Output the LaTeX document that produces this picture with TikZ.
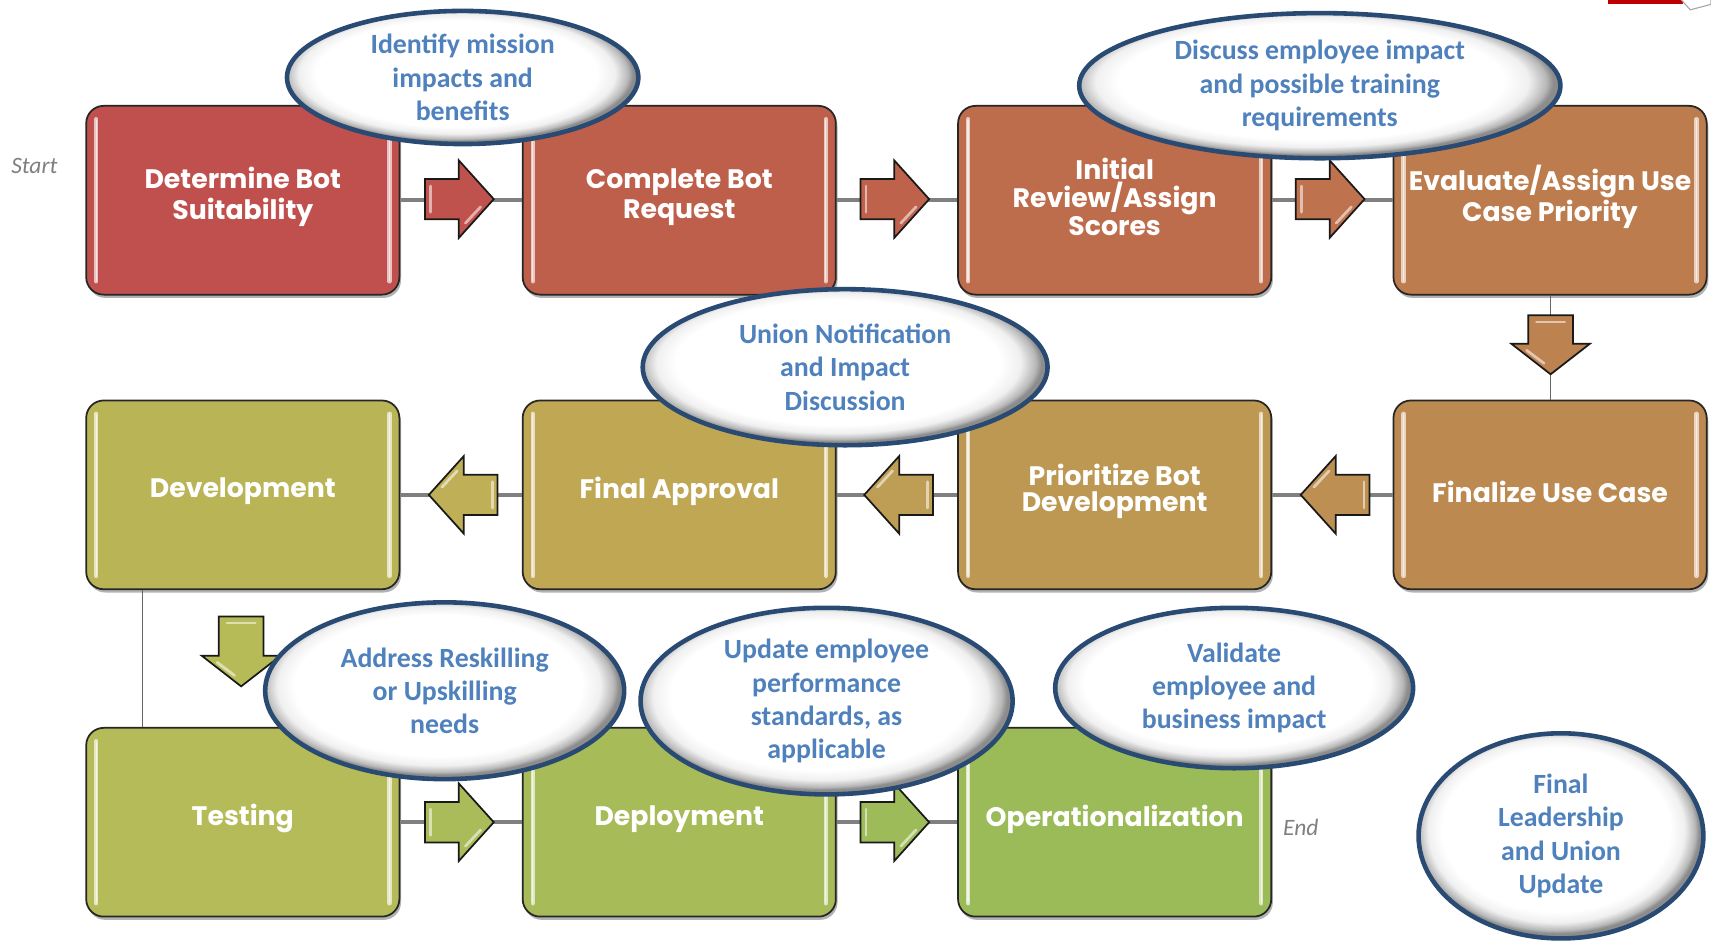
\documentclass[tikz,border=0pt]{standalone}
\usepackage{fontspec}
\setmainfont{Carlito}
\newfontfamily\boxfont{Poppins}
\usetikzlibrary{shapes.geometric,shadows}

\definecolor{ellblue}{RGB}{79,129,189}
\definecolor{ellborder}{RGB}{41,74,115}
\definecolor{lineg}{RGB}{128,128,128}
\definecolor{noteg}{RGB}{127,127,127}
% box colours
\definecolor{c0}{RGB}{192,80,77}
\definecolor{c1}{RGB}{190,95,76}
\definecolor{c2}{RGB}{189,108,76}
\definecolor{c3}{RGB}{188,124,78}
\definecolor{c4}{RGB}{188,138,80}
\definecolor{c5}{RGB}{189,152,82}
\definecolor{c6}{RGB}{191,167,84}
\definecolor{c7}{RGB}{185,181,86}
\definecolor{c8}{RGB}{181,187,88}
\definecolor{c9}{RGB}{168,187,89}
\definecolor{c10}{RGB}{155,187,89}
% arrow colours
\definecolor{a1}{RGB}{192,82,77}
\definecolor{a2}{RGB}{190,98,76}
\definecolor{a3}{RGB}{190,114,78}
\definecolor{a4}{RGB}{188,130,79}
\definecolor{a5}{RGB}{189,143,82}
\definecolor{a6}{RGB}{190,158,84}
\definecolor{a7}{RGB}{191,175,86}
\definecolor{a8}{RGB}{182,187,88}
\definecolor{a9}{RGB}{170,187,89}
\definecolor{a10}{RGB}{158,187,89}

\pgfdeclareradialshading{ellshade}{\pgfpoint{-1.5bp}{2.5bp}}{color(0bp)=(white); color(20bp)=(white); color(22.5bp)=(black!6); color(24.3bp)=(black!28); color(25bp)=(black!45); color(50bp)=(black!45)}

\tikzset{
  stepbox/.style={rounded corners=16pt, draw=black!85, line width=1.6pt,
    minimum width=287pt, minimum height=173pt, inner sep=0pt,
    drop shadow={shadow xshift=1.5pt, shadow yshift=-3pt, opacity=0.3, fill=black}},
  boxtxt/.style={text=white, font=\boxfont\bfseries\fontsize{24.5}{28}\selectfont, align=center, inner sep=0pt},
  stripe/.style={line width=4pt, line cap=round},
  bubble/.style={ellipse, draw=ellborder, line width=4.2pt, shading=ellshade, inner sep=0pt,
    text=ellblue, font=\bfseries\fontsize{25.5}{30.5}\selectfont, align=center},
  conn/.style={draw=lineg, line width=4pt},
  thinconn/.style={draw=black!60, line width=1pt},
  blockarrow/.style={draw=black!90, line width=1.6pt, line join=miter},
  note/.style={text=noteg, font=\itshape\fontsize{21.5}{25}\selectfont},
}

% box: name, x, y, colour, text
\newcommand\mkbox[5]{%
  \node[stepbox, fill=#4] (#1) at (#2,#3) {};
  \draw[stripe, draw=#4!35!white] ([xshift=10pt,yshift=-13pt]#1.north west) -- ([xshift=10pt,yshift=13pt]#1.south west);
  \draw[stripe, draw=#4!35!white] ([xshift=-10pt,yshift=-13pt]#1.north east) -- ([xshift=-10pt,yshift=13pt]#1.south east);
  \draw[line width=1.2pt, line cap=round, draw=white!85!#4] ([xshift=10pt,yshift=-14pt]#1.north west) -- ([xshift=10pt,yshift=14pt]#1.south west);
  \draw[line width=1.2pt, line cap=round, draw=white!85!#4] ([xshift=-10pt,yshift=-14pt]#1.north east) -- ([xshift=-10pt,yshift=14pt]#1.south east);
  \node[boxtxt] (#1t) at ([yshift=3pt]#1.center) {#5};
}
% block arrows: centre x, centre y (head base), colour
\newcommand\arrR[3]{%
  \draw[blockarrow, fill=#3, shift={(#1,#2)}] (-31,-18.5) -- (0,-18.5) -- (0,-35.5) -- (32,0) -- (0,35.5) -- (0,18.5) -- (-31,18.5) -- cycle;
  \draw[line width=2.5pt, draw=#3!45!white, line cap=round, shift={(#1,#2)}] (-26,-12) -- (-26,12);
  \draw[line width=2.5pt, draw=#3!45!white, line cap=round, shift={(#1,#2)}] (6,22) -- (20,7);
}
\newcommand\arrL[3]{%
  \draw[blockarrow, fill=#3, shift={(#1,#2)}] (31,-18.5) -- (0,-18.5) -- (0,-35.5) -- (-32,0) -- (0,35.5) -- (0,18.5) -- (31,18.5) -- cycle;
  \draw[line width=2.5pt, draw=#3!45!white, line cap=round, shift={(#1,#2)}] (26,-12) -- (26,12);
  \draw[line width=2.5pt, draw=#3!45!white, line cap=round, shift={(#1,#2)}] (-6,-22) -- (-20,-7);
}
\newcommand\arrD[4]{% x, y, colour, shaft length
  \draw[blockarrow, fill=#3, shift={(#1,#2)}] (-20.5,-#4) -- (20.5,-#4) -- (20.5,0) -- (36,0) -- (0,28) -- (-36,0) -- (-20.5,0) -- cycle;
  \draw[line width=2.5pt, draw=#3!45!white, line cap=round, shift={(#1,#2)}] (-13,-#4+6) -- (13,-#4+6);
  \draw[line width=2.5pt, draw=#3!45!white, line cap=round, shift={(#1,#2)}] (-22,6) -- (-6,18);
}

\begin{document}
\begin{tikzpicture}[x=1pt,y=-1pt]
\useasboundingbox (0,0) rectangle (1568,865);
\fill[white] (0,0) rectangle (1568,865);

% partial element at top-right corner
\fill[red!75!black] (1474,0) rectangle (1542,3.5);
\draw[black!35, fill=white, line width=1pt] (1540,-1) -- (1568,-1) -- (1568,4) -- (1549,9) -- cycle;

% boxes
\mkbox{bSuit}{222.5}{183.5}{c0}{Determine Bot\\Suitability}
\mkbox{bReq}{622.5}{183.5}{c1}{Complete Bot\\Request}
\mkbox{bRev}{1021.5}{183.5}{c2}{Initial\\[-2pt]Review/Assign\\[-2pt]Scores}
\mkbox{bEval}{1420.5}{183.5}{c3}{Evaluate/Assign Use\\Case Priority}
\mkbox{bFin}{1420.5}{453.5}{c4}{Finalize Use Case}
\mkbox{bPrio}{1021.5}{453.5}{c5}{Prioritize Bot\\[-4pt]Development}
\mkbox{bAppr}{622.5}{453.5}{c6}{Final Approval}
\mkbox{bDev}{222.5}{453.5}{c7}{Development}
\mkbox{bTest}{222.5}{753.5}{c8}{Testing}
\mkbox{bDepl}{622.5}{753.5}{c9}{Deployment}
\mkbox{bOper}{1021.5}{753.5}{c10}{Operationalization}

% connectors
\draw[conn] (bSuit.east) -- (bReq.west);
\draw[conn] (bReq.east) -- (bRev.west);
\draw[conn] (bRev.east) -- (bEval.west);
\draw[thinconn] (bEval.south) -- (bFin.north);
\draw[conn] (bFin.west) -- (bPrio.east);
\draw[conn] (bPrio.west) -- (bAppr.east);
\draw[conn] (bAppr.west) -- (bDev.east);
\draw[thinconn] ([xshift=-91.5pt]bDev.south) -- ([xshift=-91.5pt]bTest.north);
\draw[conn] (bTest.east) -- (bDepl.west);
\draw[conn] (bDepl.east) -- (bOper.west);

% block arrows
\arrR{420.5}{182.5}{a1}
\arrR{819.5}{182.5}{a2}
\arrR{1218.5}{182.5}{a3}
\arrD{1421}{315}{a4}{26}
\arrL{1224}{453.5}{a5}
\arrL{824}{453.5}{a6}
\arrL{425}{453.5}{a7}
\arrD{221}{601}{a8}{36}
\arrR{420.5}{753.5}{a9}
\arrR{819.5}{753.5}{a10}

% start / end
\node[note] (start) at (31.5,152) {Start};
\node[note] (end) at (1192,758) {End};

% bubbles
\node[bubble, minimum width=322pt, minimum height=122pt] (e1) at (424,71) {Identify mission\\impacts and\\benefits};
\node[bubble, minimum width=441pt, minimum height=133pt] (e2) at (1209.5,78.5) {Discuss employee impact\\and possible training\\requirements};
\node[bubble, minimum width=371pt, minimum height=143pt] (e3) at (774.5,336.5) {Union Notification\\and Impact\\Discussion};
\node[bubble, minimum width=329pt, minimum height=162pt] (e4) at (407.5,633) {Address Reskilling\\or Upskilling\\needs};
\node[bubble, minimum width=341pt, minimum height=171pt] (e5) at (757.5,642.5) {Update employee\\performance\\standards, as\\applicable};
\node[bubble, minimum width=328pt, minimum height=147pt] (e6) at (1131,630.5) {Validate\\employee and\\business impact};
\node[bubble, minimum width=261pt, minimum height=188pt] (e7) at (1430.5,766) {Final\\Leadership\\and Union\\Update};
\end{tikzpicture}
\end{document}
